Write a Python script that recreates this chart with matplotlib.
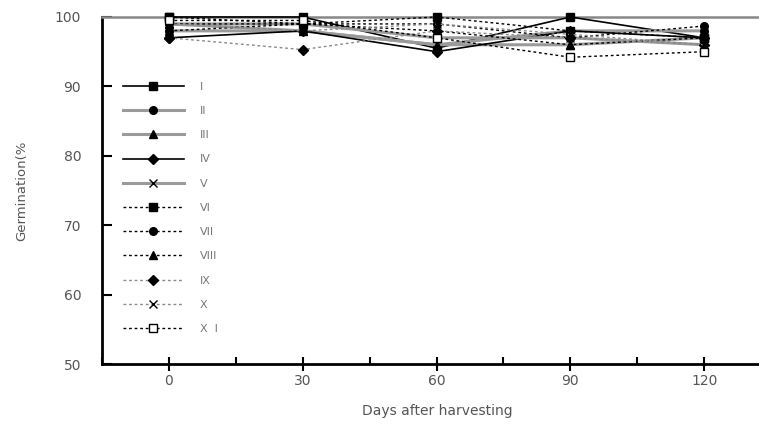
import matplotlib
matplotlib.use("Agg")
import matplotlib.pyplot as plt
from matplotlib.ticker import MultipleLocator

days = [0, 30, 60, 90, 120]
labels = ["I", "II", "III", "IV", "V", "VI", "VII", "VIII", "IX", "X", "X  I"]

s_I = [100, 100, 95.5, 100, 97]
s_II = [99, 98, 96, 98, 98]
s_III = [98, 98, 96, 96, 97]
s_IV = [97, 98, 95, 98, 97]
s_V = [99, 99, 97, 97, 96]
s_VI = [100, 99, 100, 98, 97]
s_VII = [98, 99, 99, 97, 98.7]
s_VIII = [99, 99, 98, 96, 97]
s_IX = [97, 95.3, 98, 97, 96]
s_X = [99, 98, 99, 97.5, 96]
s_XI = [99.5, 99.5, 97, 94.2, 95]

series = [s_I, s_II, s_III, s_IV, s_V, s_VI, s_VII, s_VIII, s_IX, s_X, s_XI]

dot = (0, (2, 2))
styles = [
    dict(color="black", ls="-", lw=1.2, marker="s", mfc="black"),
    dict(color="#9a9a9a", ls="-", lw=2.2, marker="o", mfc="black"),
    dict(color="#9a9a9a", ls="-", lw=2.2, marker="^", mfc="black"),
    dict(color="black", ls="-", lw=1.2, marker="D", mfc="black"),
    dict(color="#9a9a9a", ls="-", lw=2.2, marker="x", mfc="black"),
    dict(color="black", ls=dot, lw=1.0, marker="s", mfc="black"),
    dict(color="black", ls=dot, lw=1.0, marker="o", mfc="black"),
    dict(color="black", ls=dot, lw=1.0, marker="^", mfc="black"),
    dict(color="#8a8a8a", ls=dot, lw=1.0, marker="D", mfc="black"),
    dict(color="#8a8a8a", ls=dot, lw=1.0, marker="x", mfc="black"),
    dict(color="black", ls=dot, lw=1.0, marker="s", mfc="white"),
]

plt.rcParams["font.family"] = ["DejaVu Sans"]
fig = plt.figure(figsize=(7.59, 4.29), dpi=100)
ax = fig.add_axes([0.1344, 0.1515, 0.8656, 0.8089])

for vals, lab, st in zip(series, labels, styles):
    ax.plot(days, vals, label=lab, color=st["color"], linestyle=st["ls"],
            linewidth=st["lw"], marker=st["marker"], markersize=5.5,
            markerfacecolor=st["mfc"], markeredgecolor="black",
            markeredgewidth=1.0, clip_on=False, zorder=3)

ax.set_xlim(-15, 132.3)
ax.set_ylim(50, 100)
ax.set_xticks(days)
ax.xaxis.set_minor_locator(MultipleLocator(15))
ax.set_yticks([50, 60, 70, 80, 90, 100])

ax.spines["right"].set_visible(False)
ax.spines["top"].set_color("#888888")
ax.spines["top"].set_linewidth(1.8)
ax.spines["left"].set_linewidth(2)
ax.spines["bottom"].set_linewidth(2)

txt = "#555555"
ax.tick_params(axis="y", direction="in", length=7, width=1.5, pad=15,
               labelsize=10, labelcolor=txt)
ax.tick_params(axis="x", which="major", direction="inout", length=10, width=1.5,
               pad=2.5, labelsize=10, labelcolor=txt)
ax.tick_params(axis="x", which="minor", direction="in", length=5, width=1.5)

ax.set_xlabel("Days after harvesting", fontsize=10, color=txt)
ax.xaxis.set_label_coords(0.51, -0.116)
ax.set_ylabel("Germination(%", fontsize=9.5, color=txt)
ax.yaxis.set_label_coords(-0.113, 0.5)

leg = ax.legend(loc="upper left", bbox_to_anchor=(0.025, 0.826), frameon=False,
                fontsize=8, handlelength=5.5, handletextpad=1.4,
                labelspacing=1.28, borderaxespad=0)
for t in leg.get_texts():
    t.set_color("#777777")

fig.savefig("out.png", dpi=100)
